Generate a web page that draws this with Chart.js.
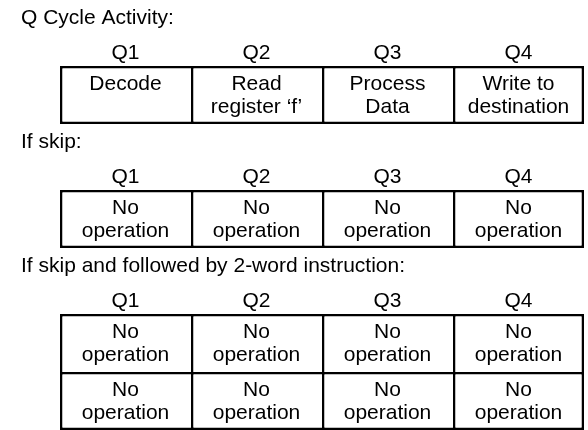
<!DOCTYPE html>
<html>
<head>
<meta charset="utf-8">
<script src="https://cdn.jsdelivr.net/npm/chart.js@4/dist/chart.umd.min.js"></script>
<style>
  html, body { margin: 0; padding: 0; background: #fff; }
  #wrap { width: 588px; height: 430px; position: relative; }
</style>
</head>
<body>
<div id="wrap"><canvas id="c"></canvas></div>
<script>
// ---- data ----
const quarters = ['Q1', 'Q2', 'Q3', 'Q4'];
const sectionTitles = ['Q Cycle Activity:', 'If skip:', 'If skip and followed by 2-word instruction:'];
const activityRow = [['Decode', ''], ['Read', 'register \u2018f\u2019'], ['Process', 'Data'], ['Write to', 'destination']];
const skipRow = [['No', 'operation'], ['No', 'operation'], ['No', 'operation'], ['No', 'operation']];
const skipTwoWordRows = [
  [['No', 'operation'], ['No', 'operation'], ['No', 'operation'], ['No', 'operation']],
  [['No', 'operation'], ['No', 'operation'], ['No', 'operation'], ['No', 'operation']]
];
const sections = [[activityRow], [skipRow], skipTwoWordRows];

// ---- layout ----
const ROW_H = 58, TITLE_OFF = 24, TITLE_GAP = 42, LINE_W = 2.5;
const FONT = '21px "Liberation Sans", Arial, sans-serif';
const layoutInfo = [];
let cursor = 0;
sections.forEach((rows, s) => {
  const titleBase = cursor + TITLE_OFF;
  const top = titleBase + TITLE_GAP;
  layoutInfo.push({ titleBase, top, rows });
  cursor = top + rows.length * ROW_H;
});

const datasets = [];
layoutInfo.forEach((sec, s) => {
  sec.rows.forEach((row, r) => {
    const y0 = sec.top + r * ROW_H, y1 = y0 + ROW_H;
    const last = r === sec.rows.length - 1;
    datasets.push({
      data: quarters.map(q => ({ x: q, y: [y0, y1] })),
      cellText: row,
      backgroundColor: '#ffffff',
      borderColor: '#000000',
      borderSkipped: false,
      inflateAmount: 0,
      grouped: false,
      categoryPercentage: 1,
      barPercentage: 1,
      borderWidth: (ctx) => ({
        top: LINE_W,
        left: LINE_W,
        right: ctx.dataIndex === quarters.length - 1 ? LINE_W : 0,
        bottom: last ? LINE_W : 0
      })
    });
  });
});

const textPlugin = {
  id: 'tableText',
  afterDatasetsDraw(chart) {
    const ctx = chart.ctx;
    const xs = chart.scales.x, ys = chart.scales.y;
    ctx.save();
    ctx.font = FONT;
    ctx.fillStyle = '#000';
    ctx.textBaseline = 'alphabetic';
    layoutInfo.forEach((sec, s) => {
      ctx.textAlign = 'left';
      ctx.fillText(sectionTitles[s], 21, ys.getPixelForValue(sec.titleBase));
      ctx.textAlign = 'center';
      quarters.forEach((q, i) => {
        ctx.fillText(q, xs.getPixelForValue(i), ys.getPixelForValue(sec.top) - 7);
      });
      sec.rows.forEach((row, r) => {
        const yTop = ys.getPixelForValue(sec.top + r * ROW_H);
        row.forEach((lines, i) => {
          const cx = xs.getPixelForValue(i);
          lines.forEach((t, k) => {
            if (t) ctx.fillText(t, cx, yTop + 24 + k * 23);
          });
        });
      });
    });
    ctx.restore();
  }
};

new Chart(document.getElementById('c'), {
  type: 'bar',
  data: { labels: quarters, datasets },
  options: {
    responsive: true,
    maintainAspectRatio: false,
    animation: false,
    layout: { padding: { left: 60, right: 4, top: 0, bottom: 0 } },
    plugins: { legend: { display: false }, tooltip: { enabled: false } },
    scales: {
      x: { type: 'category', display: false, offset: true },
      y: { type: 'linear', display: false, min: 0, max: 430, reverse: true }
    }
  },
  plugins: [textPlugin]
});
</script>
</body>
</html>
